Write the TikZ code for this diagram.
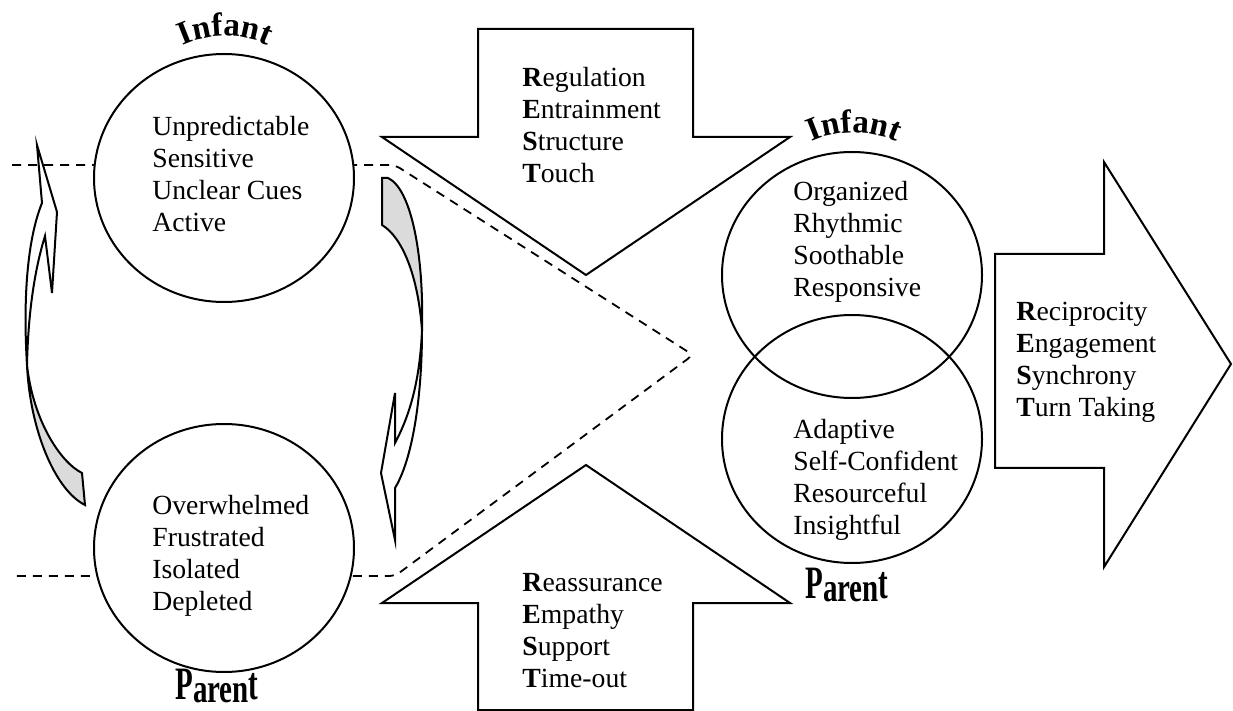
\documentclass[tikz,border=0pt]{standalone}
\usepackage{fontspec}
\setmainfont{Liberation Serif}
\usetikzlibrary{decorations.text}
\newfontfamily\labelfont{Liberation Serif}
\begin{document}
\begin{tikzpicture}[x=0.5pt,y=-0.5pt,line join=miter]
\tikzset{
  outl/.style={line width=1pt,draw=black},
  txt/.style={font=\fontsize{13.85}{16}\selectfont,align=left,anchor=west,inner sep=0pt},
  dashline/.style={line width=0.9pt,dash pattern=on 4.5pt off 3.5pt},
  ring/.style={line width=1pt,draw=black},
  tailfill/.style={outl,fill=black!14},
  headfill/.style={outl,fill=white},
  arclabel/.style={decorate,decoration={text along path,text align=center,
     text format delimiters={|}{|},text={|\labelfont\bfseries\fontsize{16.5}{16.5}\selectfont|Infant}}},
  plabel/.style={font=\labelfont\bfseries\fontsize{14.5}{14.5}\selectfont,inner sep=0pt}
}
\useasboundingbox (0,0) rectangle (1233,711);

% big block arrows
\draw[outl,fill=white] (478,29) -- (693,29) -- (693,137) -- (790,137) -- (586,275) -- (382,137) -- (478,137) -- cycle;
\draw[outl,fill=white] (478,710) -- (478,603) -- (382,603) -- (586,465) -- (790,603) -- (693,603) -- (693,710) -- cycle;
\draw[outl,fill=white] (995,254) -- (1104,254) -- (1104,162) -- (1231,364) -- (1104,567) -- (1104,468) -- (995,468) -- cycle;

% curved arrows (left: upward, right: downward)
\draw[tailfill] (27,365) .. controls (30,430) and (55,490) .. (85,505) -- (82,473) .. controls (60,462) and (33,420) .. (27,365) -- cycle;
\draw[headfill] (37,145) -- (57,212) -- (52,293) -- (45,236) .. controls (33,275) and (28,320) .. (27,365) .. controls (23,300) and (27,240) .. (42,203) -- cycle;
\draw[tailfill] (382,178) -- (382,225) .. controls (402,237) and (418,275) .. (422,330) .. controls (424,250) and (410,188) .. (388,178) -- cycle;
\draw[headfill] (422,330) .. controls (422,400) and (412,460) .. (395,488) -- (395,540) -- (381,473) -- (395,393) -- (395,443) .. controls (410,415) and (420,380) .. (422,330) -- cycle;

% dashed funnel
\coordinate (dA) at (12,165);
\coordinate (dB) at (395,165);
\coordinate (dC) at (693,355);
\coordinate (dD) at (395,576);
\coordinate (dE) at (12,576);
\draw[dashline,rounded corners=3pt] (dA) -- (dB) -- (dC) -- (dD) -- (dE);

% circles
\draw[ring,fill=white] (224,178) ellipse [x radius=130,y radius=124];
\draw[ring,fill=white] (224,548) ellipse [x radius=130,y radius=124];
\draw[ring] (852,275) ellipse [x radius=130,y radius=123];
\draw[ring] (852,439) ellipse [x radius=130,y radius=124];

% circle texts
\node[txt] (ti) at (152,174) {Unpredictable\\Sensitive\\Unclear Cues\\Active};
\node[txt] (tp) at (152,556) {Overwhelmed\\Frustrated\\Isolated\\Depleted};
\node[txt] (ri) at (793,242) {Organized\\Rhythmic\\Soothable\\Responsive};
\node[txt] (rp) at (793,480) {Adaptive\\Self-Confident\\Resourceful\\Insightful};

% arrow texts
\node[txt] (rest1) at (522,125) {\textbf{R}egulation\\\textbf{E}ntrainment\\\textbf{S}tructure\\\textbf{T}ouch};
\node[txt] (rest2) at (522,631) {\textbf{R}eassurance\\\textbf{E}mpathy\\\textbf{S}upport\\\textbf{T}ime-out};
\node[txt] (rest3) at (1016,362) {\textbf{R}eciprocity\\\textbf{E}ngagement\\\textbf{S}ynchrony\\\textbf{T}urn Taking};

% Infant / Parent labels
\path[arclabel] (176,49) .. controls (202,32) and (248,32) .. (274,49);
\path[arclabel] (806,145) .. controls (832,129) and (876,129) .. (902,145);
\node[plabel] (lp) at (217,686) {\scalebox{1}[1.6]{P}\raisebox{-1.5pt}{\scalebox{1}[1.4]{aren}}\scalebox{1}[1.6]{t}};
\node[plabel] (rpl) at (847,585) {\scalebox{1}[1.6]{P}\raisebox{-1.5pt}{\scalebox{1}[1.4]{aren}}\scalebox{1}[1.6]{t}};
\end{tikzpicture}
\end{document}
